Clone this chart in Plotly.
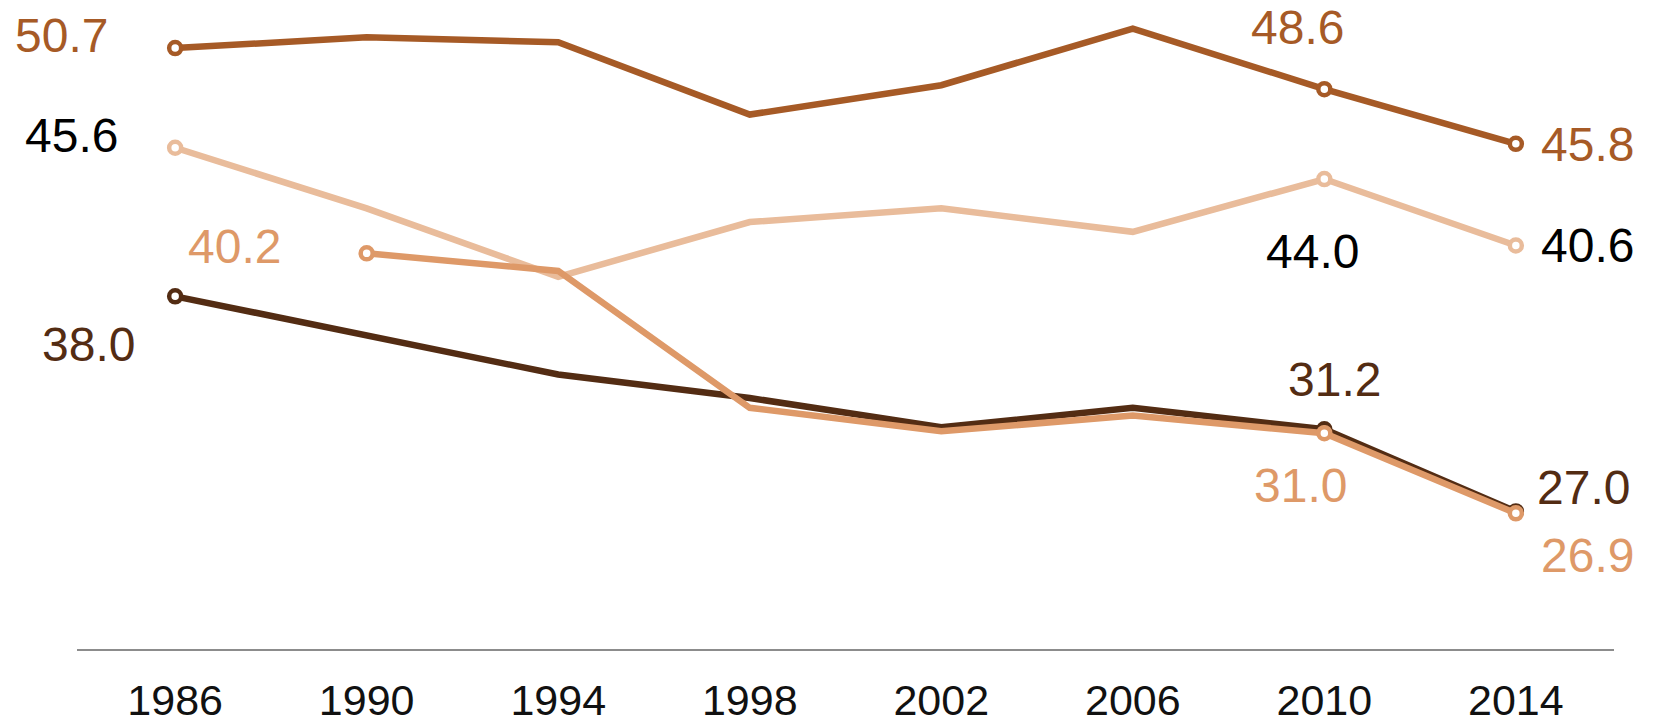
import plotly.graph_objects as go

years = [1986, 1990, 1994, 1998, 2002, 2006, 2010, 2014]
series_a = [50.7, 51.25, 51.0, 47.3, 48.8, 51.7, 48.6, 45.8]
series_b = [45.6, 42.5, 39.0, 41.8, 42.5, 41.3, 44.0, 40.6]
series_c = [None, 40.2, 39.3, 32.3, 31.1, 31.9, 31.0, 26.9]
series_d = [38.0, 36.0, 34.0, 32.8, 31.3, 32.3, 31.2, 27.0]
tick_labels = ["1986", "1990", "1994", "1998", "2002", "2006", "2010", "2014"]

col_a = "#A65A26"
col_b = "#E9BC9B"
col_c = "#DE9968"
col_d = "#532C13"

# (values, line colour, label colour, marked years, label offsets per marked year)
series = [
    (series_a, col_a, col_a, [1986, 2010, 2014], {1986: (-114, 13), 2010: (-27, 62), 2014: (72, -1)}),
    (series_b, col_b, "#000000", [1986, 2010, 2014], {1986: (-104, 12), 2010: (-12, -72), 2014: (72, 0)}),
    (series_d, col_d, col_d, [1986, 2010, 2014], {1986: (-87, -48), 2010: (10, 50), 2014: (68, 24)}),
    (series_c, col_c, col_c, [1990, 2010, 2014], {1990: (-132, 7), 2010: (-24, -52), 2014: (72, -42)}),
]

fig = go.Figure()
annotations = []
for vals, lc, tc, marked, offs in series:
    xs = [y for y, v in zip(years, vals) if v is not None]
    ys = [v for v in vals if v is not None]
    fig.add_trace(go.Scatter(x=xs, y=ys, mode="lines",
                             line=dict(color=lc, width=6.5), cliponaxis=False,
                             hoverinfo="skip", showlegend=False))
    mx = [y for y in marked]
    my = [vals[years.index(y)] for y in marked]
    fig.add_trace(go.Scatter(x=mx, y=my, mode="markers",
                             marker=dict(size=12, color="white", line=dict(color=lc, width=4.5)),
                             cliponaxis=False, hoverinfo="skip", showlegend=False))
    for y in marked:
        v = vals[years.index(y)]
        dx, dy = offs[y]
        annotations.append(dict(x=y, y=v, xref="x", yref="y", text=f"{v:.1f}",
                                showarrow=False, xshift=dx, yshift=dy,
                                xanchor="center", yanchor="middle",
                                font=dict(family="Liberation Sans, Arial, sans-serif", size=48, color=tc)))

fig.update_layout(
    width=1645, height=708,
    margin=dict(l=69, r=39, t=0, b=67),
    paper_bgcolor="white", plot_bgcolor="white",
    annotations=annotations,
    xaxis=dict(range=[1983.95, 2016.05], tickvals=years, ticktext=tick_labels,
               showgrid=False, zeroline=False, showline=True, linecolor="#8C8C8C", linewidth=2,
               ticks="outside", ticklen=12, tickcolor="rgba(0,0,0,0)",
               tickfont=dict(family="Liberation Sans, Arial, sans-serif", size=43, color="#111111"),
               automargin=False, fixedrange=True),
    yaxis=dict(range=[19.96, 52.75], showgrid=False, zeroline=False, showticklabels=False,
               showline=False, automargin=False, fixedrange=True),
)

fig.write_html("out.html")
